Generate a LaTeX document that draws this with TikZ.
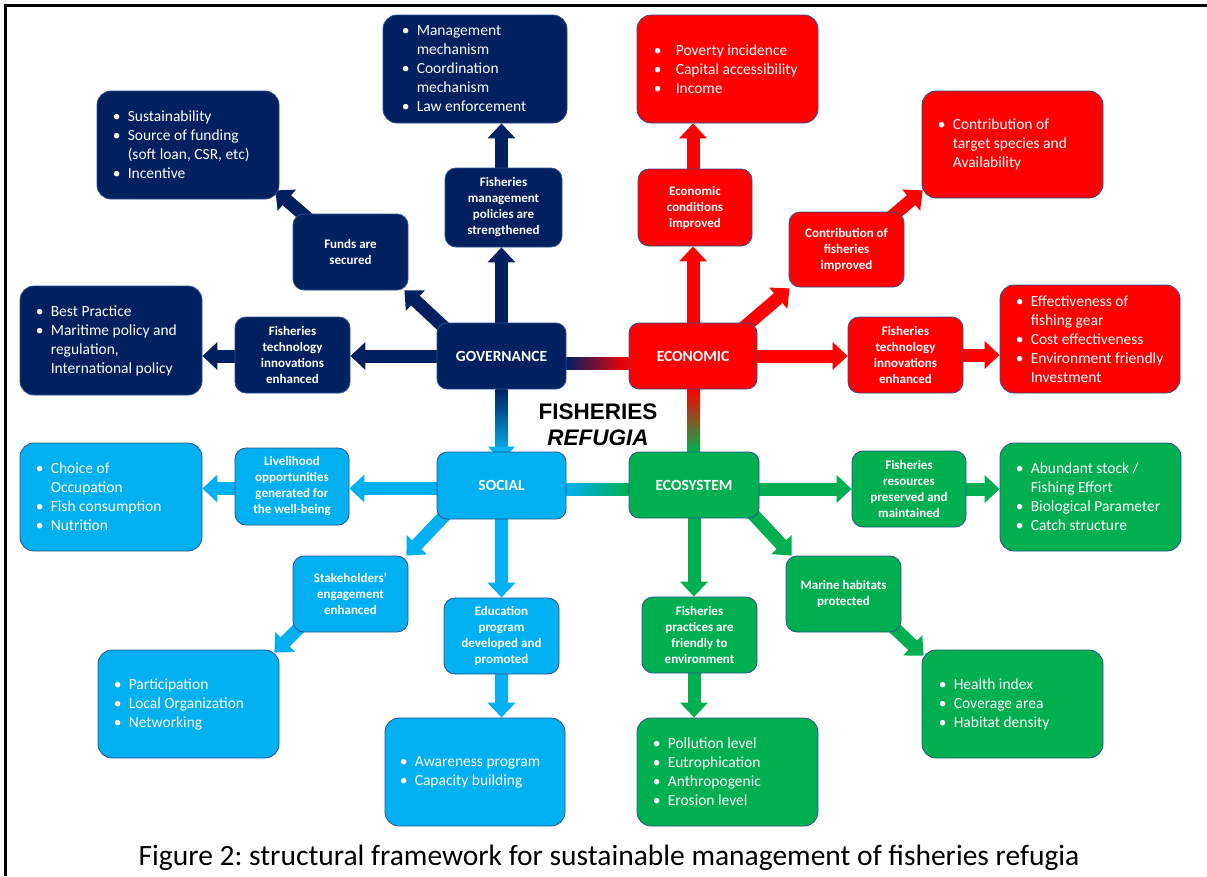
\documentclass[tikz,border=0pt]{standalone}
\usepackage{fontspec}
\setmainfont{Carlito}
\newfontfamily\arialfont{Liberation Sans}
\usetikzlibrary{arrows.meta,calc}
\pgfdeclarelayer{background}
\pgfdeclarelayer{paper}
\pgfsetlayers{paper,background,main}
\definecolor{cgov}{HTML}{002060}
\definecolor{cecon}{HTML}{FF0000}
\definecolor{csoc}{HTML}{00B0F0}
\definecolor{ceco}{HTML}{00B050}
\definecolor{outl}{HTML}{2F528F}
\newcommand{\bi}[1]{\makebox[15pt][l]{\textbullet}#1}
\newcommand{\bii}[1]{\makebox[22pt][l]{\textbullet}#1}
\newcommand{\ci}[1]{\hspace*{15pt}#1}
\frenchspacing
\tikzset{
  sz/.style 2 args={minimum width=#1pt,minimum height=#2pt},
  bigbox/.style={draw=outl,line width=0.8pt,rounded corners=14pt,inner sep=0pt},
  bt/.style={text=white,font=\fontsize{15.5}{19}\selectfont,align=left,inner sep=0pt,anchor=west},
  sbox/.style={draw=outl,line width=0.8pt,rounded corners=11pt,text=white,
     font=\bfseries\fontsize{13}{16}\selectfont,align=center,inner sep=0pt},
  cbox/.style={draw=outl,line width=0.8pt,rounded corners=10pt,text=white,
     font=\bfseries\fontsize{15.5}{18}\selectfont,inner sep=0pt,sz={129}{66}},
  arr/.style={line width=13pt,-{Triangle[width=27pt,length=15pt]},draw=#1,fill=#1}
}
\begin{document}
\begin{tikzpicture}[x=1pt,y=-1pt]
\useasboundingbox (0,0) rectangle (1207,876);
\begin{pgfonlayer}{paper}
\fill[white] (0,0) rectangle (1207,876);
\draw[line width=2.5pt] (5.5,876) -- (5.5,5.5) -- (1207,5.5);
\end{pgfonlayer}

% ---------- central boxes
\node[cbox,fill=cgov] (gov) at (501.5,356) {GOVERNANCE};
\node[cbox,fill=cecon,sz={128}{66}] (econ) at (693,356) {ECONOMIC};
\node[cbox,fill=csoc,sz={129}{67}] (soc) at (501.5,485.5) {SOCIAL};
\node[cbox,fill=ceco,sz={130}{66}] (ecosys) at (694,485) {ECOSYSTEM};
\node[font=\arialfont\bfseries\fontsize{22.5}{26}\selectfont,align=center,inner sep=0pt] (title) at (598,425) {FISHERIES\\\itshape REFUGIA};

% ---------- governance
\node[bigbox,fill=cgov,sz={184}{108}] (mgmt) at (475,69) {};
\node[bt] at ([xshift=19pt]mgmt.west) {\bi{Management}\\\ci{mechanism}\\\bi{Coordination}\\\ci{mechanism}\\\bi{Law enforcement}};
\node[bigbox,fill=cgov,sz={182}{108}] (sust) at (188,145) {};
\node[bt] at ([xshift=16pt]sust.west) {\bi{Sustainability}\\\bi{Source of funding}\\\ci{(soft loan, CSR, etc)}\\\bi{Incentive}};
\node[bigbox,fill=cgov,sz={182}{109}] (best) at (111,340.5) {};
\node[bt] at ([xshift=16pt]best.west) {\bi{Best Practice}\\\bi{Maritime policy and}\\\ci{regulation,}\\\ci{International policy}};
\node[sbox,fill=cgov,sz={117}{79}] (policies) at (503.5,207.5) {Fisheries\\management\\policies are\\strengthened};
\node[sbox,fill=cgov,sz={115}{76}] (funds) at (350.5,252) {Funds are\\secured};
\node[sbox,fill=cgov,sz={115}{76}] (govtech) at (292.5,355) {Fisheries\\technology\\innovations\\enhanced};

% ---------- economic
\node[bigbox,fill=cecon,sz={181}{108}] (pov) at (727.5,69) {};
\node[bt] at ([xshift=17pt]pov.west) {\bii{Poverty incidence}\\\bii{Capital accessibility}\\\bii{Income}};
\node[bigbox,fill=cecon,sz={181}{107}] (target) at (1012.5,144.5) {};
\node[bt] at ([xshift=16pt]target.west) {\bi{Contribution of}\\\ci{target species and}\\\ci{Availability}};
\node[bigbox,fill=cecon,sz={180}{108}] (effect) at (1090,339) {};
\node[bt] at ([xshift=16pt]effect.west) {\bi{Effectiveness of}\\\ci{fishing gear}\\\bi{Cost effectiveness}\\\bi{Environment friendly}\\\ci{Investment}};
\node[sbox,fill=cecon,sz={114}{77}] (cond) at (695,207.5) {Economic\\conditions\\improved};
\node[sbox,fill=cecon,sz={115}{75}] (contrib) at (846.5,249.5) {Contribution of\\fisheries\\improved};
\node[sbox,fill=cecon,sz={115}{76}] (econtech) at (905.5,355) {Fisheries\\technology\\innovations\\enhanced};

% ---------- social
\node[bigbox,fill=csoc,sz={182}{108}] (choice) at (111,497) {};
\node[bt] at ([xshift=16pt]choice.west) {\bi{Choice of}\\\ci{Occupation}\\\bi{Fish consumption}\\\bi{Nutrition}};
\node[bigbox,fill=csoc,sz={181}{108}] (part) at (188.5,704) {};
\node[bt] at ([xshift=16pt]part.west) {\bi{Participation}\\\bi{Local Organization}\\\bi{Networking}};
\node[bigbox,fill=csoc,sz={180}{108}] (aware) at (475,772) {};
\node[bt] at ([xshift=15pt]aware.west) {\bi{Awareness program}\\\bi{Capacity building}};
\node[sbox,fill=csoc,sz={114}{77}] (liv) at (292,486.5) {Livelihood\\opportunities\\generated for\\the well-being};
\node[sbox,fill=csoc,sz={115}{76}] (stake) at (350.5,594) {Stakeholders’\\engagement\\enhanced};
\node[sbox,fill=csoc,sz={115}{76}] (edu) at (501.5,636) {Education\\program\\developed and\\promoted};

% ---------- ecosystem
\node[bigbox,fill=ceco,sz={181}{108}] (abund) at (1090.5,497) {};
\node[bt] at ([xshift=16pt]abund.west) {\bi{Abundant stock /}\\\ci{Fishing Effort}\\\bi{Biological Parameter}\\\bi{Catch structure}};
\node[bigbox,fill=ceco,sz={181}{108}] (health) at (1012.5,704) {};
\node[bt] at ([xshift=17pt]health.west) {\bi{Health index}\\\bi{Coverage area}\\\bi{Habitat density}};
\node[bigbox,fill=ceco,sz={181}{108}] (poll) at (727.5,772) {};
\node[bt] at ([xshift=16pt]poll.west) {\bi{Pollution level}\\\bi{Eutrophication}\\\bi{Anthropogenic}\\\bi{Erosion level}};
\node[sbox,fill=ceco,sz={114}{76}] (res) at (909,489) {Fisheries\\resources\\preserved and\\maintained};
\node[sbox,fill=ceco,sz={115}{76}] (marine) at (843.5,594) {Marine habitats\\protected};
\node[sbox,fill=ceco,sz={115}{76}] (prac) at (699.5,635) {Fisheries\\practices are\\friendly to\\environment};

% ---------- caption
\node[font=\fontsize{29.5}{33}\selectfont,inner sep=0pt] (cap) at (609,858) {Figure 2: structural framework for sustainable management of fisheries refugia};

\begin{pgfonlayer}{background}
% gradient links between the four pillars
\shade[left color=cgov,right color=cecon] ([yshift=-1pt]gov.east) rectangle ([yshift=-13pt]econ.west);
\shade[top color=cecon,bottom color=ceco] ([xshift=-6pt]econ.south) rectangle ([xshift=6pt]ecosys.north);
\shade[top color=cgov,bottom color=csoc] ([xshift=-6pt]gov.south) rectangle ([xshift=6pt]soc.north);
\fill[csoc] ([xshift=-13.5pt,yshift=5pt]soc.north) -- ([xshift=13.5pt,yshift=5pt]soc.north) -- ([yshift=-10pt]soc.north) -- cycle;
\shade[left color=csoc,right color=ceco] ([yshift=2pt]soc.east) rectangle ([yshift=-10pt]ecosys.west);
% governance
\draw[arr=cgov] (gov.west) -- (gov.west -| govtech.east);
\draw[arr=cgov] (govtech.west |- gov.west) -- (gov.west -| best.east);
\draw[arr=cgov] ([shift={(11,8)}]gov.north west) -- ([shift={(-4,0)}]funds.south east);
\draw[arr=cgov] ([shift={(20,9)}]funds.north west) -- ([shift={(-4,-9)}]sust.south east);
\draw[arr=cgov] (gov.north) -- (gov.north |- policies.south);
\draw[arr=cgov] (gov.north |- policies.north) -- (gov.north |- mgmt.south);
% economic
\draw[arr=cecon] (econ.north) -- (econ.north |- cond.south);
\draw[arr=cecon] (econ.north |- cond.north) -- (econ.north |- pov.south);
\draw[arr=cecon] ([shift={(-16,7)}]econ.north east) -- ([shift={(1,1)}]contrib.south west);
\draw[arr=cecon] ([shift={(-15,7)}]contrib.north east) -- ([shift={(1,-8)}]target.south west);
\draw[arr=cecon] (econ.east) -- (econ.east -| econtech.west);
\draw[arr=cecon] (econtech.east) -- (econtech.east -| effect.west);
% social
\draw[arr=csoc] ([yshift=-3pt]soc.west) -- ([yshift=-3pt]soc.west -| liv.east);
\draw[arr=csoc] ([yshift=-3pt]soc.west -| liv.west) -- ([yshift=-3pt]soc.west -| choice.east);
\draw[arr=csoc] ([shift={(10,-6)}]soc.south west) -- ([shift={(-2,0)}]stake.north east);
\draw[arr=csoc] ([shift={(16,-14)}]stake.south west) -- ([shift={(-5,3)}]part.north east);
\draw[arr=csoc] (soc.south) -- (soc.south |- edu.north);
\draw[arr=csoc] (soc.south |- edu.south) -- (soc.south |- aware.north);
% ecosystem
\draw[arr=ceco] (ecosys.east |- res.west) -- (res.west);
\draw[arr=ceco] (res.east) -- (res.east -| abund.west);
\draw[arr=ceco] ([shift={(-8,-6)}]ecosys.south east) -- ([shift={(6,0)}]marine.north west);
\draw[arr=ceco] ([shift={(-13,-10)}]marine.south east) -- ([shift={(2,6)}]health.north west);
\draw[arr=ceco] (ecosys.south) -- (ecosys.south |- prac.north);
\draw[arr=ceco] (ecosys.south |- prac.south) -- (ecosys.south |- poll.north);
\end{pgfonlayer}
\end{tikzpicture}
\end{document}
